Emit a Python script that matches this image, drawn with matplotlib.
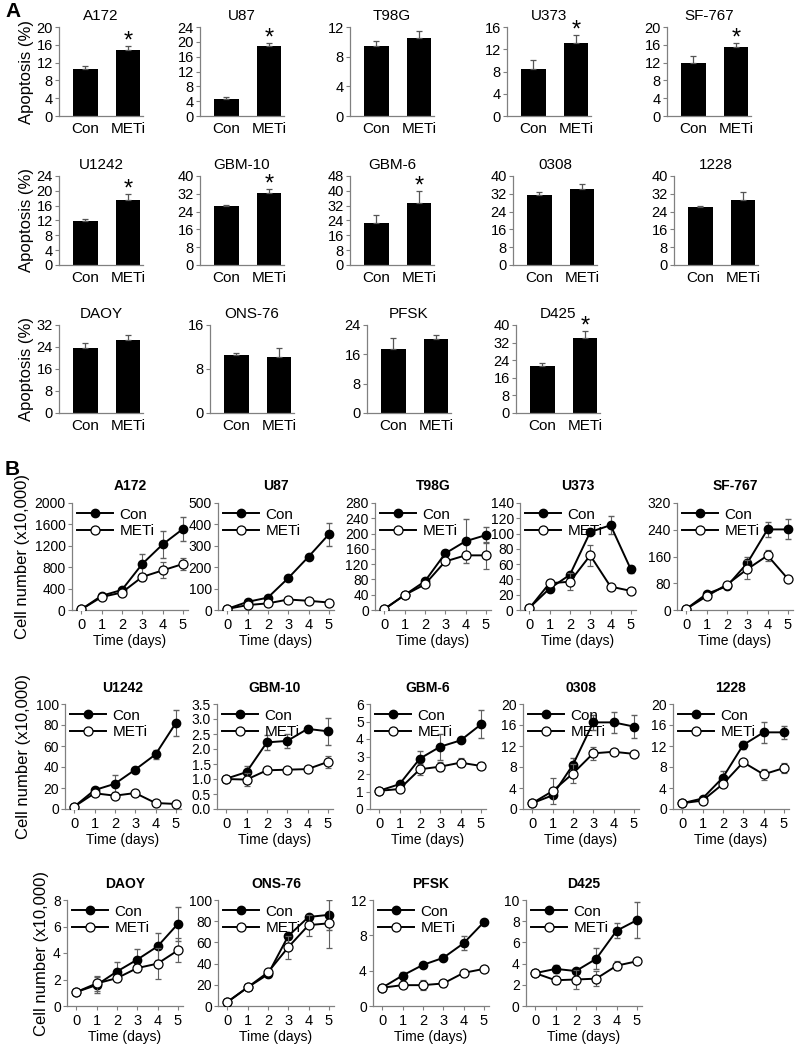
import numpy as np
import matplotlib.pyplot as plt
from matplotlib.ticker import MultipleLocator, FormatStrFormatter

plt.rcParams['font.family'] = ['Liberation Sans', 'DejaVu Sans']

# ---- panel A: apoptosis bars ----
a_names = ['A172', 'U87', 'T98G', 'U373', 'SF-767',
           'U1242', 'GBM-10', 'GBM-6', '0308', '1228',
           'DAOY', 'ONS-76', 'PFSK', 'D425']
a_groups = ['Con', 'METi']
a_con = [10.5, 4.5, 9.4, 8.4, 11.9, 11.9, 26.6, 22.6, 31.4, 26.1, 23.8, 10.5, 17.5, 21.5]
a_con_err = [0.8, 0.7, 0.7, 1.7, 1.5, 0.4, 0.5, 4.6, 1.5, 0.5, 1.5, 0.5, 2.9, 1.2]
a_meti = [14.9, 18.8, 10.5, 13.1, 15.4, 17.6, 32.3, 33.5, 34.0, 29.1, 26.6, 10.2, 20.1, 34.0]
a_meti_err = [0.8, 0.9, 0.9, 1.5, 0.9, 1.5, 2.0, 6.3, 2.2, 3.5, 1.9, 1.6, 1.2, 3.4]
a_ymax = [20, 24, 12, 16, 20, 24, 40, 48, 40, 40, 32, 16, 24, 40]
a_step = [4, 4, 4, 4, 4, 4, 8, 8, 8, 8, 8, 8, 8, 8]
a_star = [1, 1, 0, 1, 1, 1, 1, 1, 0, 0, 0, 0, 0, 1]

# ---- panel B: growth curves ----
b_names = ['A172', 'U87', 'T98G', 'U373', 'SF-767',
           'U1242', 'GBM-10', 'GBM-6', '0308', '1228',
           'DAOY', 'ONS-76', 'PFSK', 'D425']
b_days = [0, 1, 2, 3, 4, 5]
b_con = [[10, 265, 375, 860, 1225, 1515],
         [5, 38, 58, 149, 249, 354],
         [2, 39, 75, 148, 180, 196],
         [2.6, 28, 46, 102, 111, 53],
         [3, 48, 71, 140, 241, 241],
         [2.2, 18, 24, 37.5, 52, 82],
         [1.01, 1.23, 2.22, 2.27, 2.67, 2.59],
         [1.04, 1.42, 2.88, 3.56, 3.92, 4.83],
         [1.1, 2.6, 8.4, 16.5, 16.5, 15.7],
         [1.1, 2.0, 6.0, 12.2, 14.6, 14.6],
         [1.05, 1.58, 2.6, 3.5, 4.5, 6.2],
         [3.7, 17.5, 29.8, 66, 84, 86],
         [2.07, 3.45, 4.65, 5.45, 7.1, 9.5],
         [3.1, 3.5, 3.3, 4.45, 7.1, 8.1]]
b_con_err = [[0, 20, 30, 180, 250, 225],
             [0, 5, 5, 6, 8, 54],
             [0, 3, 5, 8, 57, 20],
             [0, 2, 3, 3, 12, 5],
             [0, 5, 6, 20, 23, 30],
             [0, 2, 8, 2, 4, 12],
             [0, 0.2, 0.25, 0.22, 0.1, 0.45],
             [0, 0.15, 0.45, 0.75, 0.1, 0.8],
             [0, 0.3, 1.4, 1.4, 2.0, 2.2],
             [0, 0.3, 1.3, 0.8, 2.0, 1.3],
             [0, 0.6, 0.7, 0.8, 1.0, 1.3],
             [0, 1, 2, 3, 2, 14],
             [0, 0.4, 0.2, 0.2, 0.8, 0.2],
             [0, 0.4, 0.2, 1.0, 0.7, 1.7]]
b_meti = [[10, 242, 327, 618, 740, 860],
          [5, 23, 31, 49, 43, 35],
          [2, 39, 67, 127, 143, 143],
          [2, 35, 37, 71.5, 30.6, 25],
          [3, 41, 76, 122, 163, 93],
          [2.2, 15, 12.7, 15.2, 5.7, 4.8],
          [1.0, 0.98, 1.29, 1.31, 1.33, 1.57],
          [1.04, 1.14, 2.27, 2.42, 2.65, 2.46],
          [1.1, 3.4, 6.75, 10.6, 10.9, 10.5],
          [1.1, 1.6, 4.75, 8.9, 6.6, 7.8],
          [1.05, 1.7, 2.1, 2.86, 3.2, 4.2],
          [3.5, 17.5, 31.7, 55.4, 76.3, 78],
          [2.07, 2.36, 2.36, 2.55, 3.75, 4.2],
          [3.1, 2.43, 2.5, 2.58, 3.8, 4.22]]
b_meti_err = [[0, 20, 30, 80, 150, 120],
              [0, 3, 3, 4, 4, 4],
              [0, 3, 5, 6, 10, 35],
              [0, 2, 11, 14, 2, 2],
              [0, 4, 6, 28, 15, 5],
              [0, 1, 1, 1, 1, 1],
              [0, 0.22, 0.05, 0.05, 0.05, 0.2],
              [0, 0.1, 0.3, 0.25, 0.25, 0.2],
              [0, 2.5, 1.8, 1.3, 0.3, 0.3],
              [0, 0.3, 0.6, 0.4, 1.1, 0.9],
              [0, 0.6, 0.2, 0.3, 1.15, 0.9],
              [0, 1, 2, 11, 10, 23],
              [0, 0.2, 0.6, 0.4, 0.3, 0.2],
              [0, 0.4, 0.9, 0.7, 0.4, 0.2]]
b_ymax = [2000, 500, 280, 140, 320, 100, 3.5, 6, 20, 20, 8, 100, 12, 10]
b_step = [400, 100, 40, 20, 80, 20, 0.5, 1, 4, 4, 2, 20, 4, 2]

W, H = 796, 1050
fig = plt.figure(figsize=(W / 100, H / 100), dpi=100)
grey = '#808080'


def place(left, top, width, bottom):
    return fig.add_axes([left / W, 1 - bottom / H, width / W, (bottom - top) / H])


def style(ax, size):
    for s in ['top', 'right']:
        ax.spines[s].set_visible(False)
    for s in ['left', 'bottom']:
        ax.spines[s].set_color(grey)
        ax.spines[s].set_linewidth(0.9)
    ax.tick_params(color=grey, length=3, width=0.8, labelsize=size, pad=1.5)


# layout of panel A (pixel left edges, row top/bottom)
a_lefts = [[59, 200, 350, 507, 667], [59, 200, 350, 513, 674], [59, 210, 367, 516]]
a_rows = [(27, 116), (176, 265), (325, 413)]

k = 0
for r, lefts in enumerate(a_lefts):
    for c, left in enumerate(lefts):
        top, bottom = a_rows[r]
        ax = place(left, top, 84, bottom)
        style(ax, 10.5)
        vals = [a_con[k], a_meti[k]]
        errs = [a_con_err[k], a_meti_err[k]]
        x = np.arange(2)
        ax.bar(x, vals, width=0.58, color='black',
               yerr=[[0, 0], errs], error_kw=dict(ecolor='#555555', elinewidth=0.9, capsize=2, capthick=0.9))
        ax.set_xlim(-0.62, 1.35)
        ax.set_ylim(0, a_ymax[k])
        ax.yaxis.set_major_locator(MultipleLocator(a_step[k]))
        ax.set_xticks(x)
        ax.set_xticklabels(a_groups, fontsize=11)
        ax.tick_params(axis='x', length=0, pad=4)
        ax.set_title(a_names[k], fontsize=11, pad=5)
        if a_star[k]:
            ax.annotate('*', xy=(1, a_meti[k] + a_meti_err[k]), xytext=(0, -1),
                        textcoords='offset points', ha='center', va='baseline',
                        fontsize=17, clip_on=False)
        if c == 0:
            ax.set_ylabel('Apoptosis (%)', fontsize=12, labelpad=2)
        k += 1

# layout of panel B
b_lefts = [[72, 218, 375, 520, 677], [65, 217, 370, 523, 673], [67, 218, 373, 526]]
b_rows = [(503, 610), (704, 809), (900, 1006)]

k = 0
for r, lefts in enumerate(b_lefts):
    for c, left in enumerate(lefts):
        top, bottom = b_rows[r]
        ax = place(left, top, 116, bottom)
        style(ax, 10)
        ax.errorbar(b_days, b_con[k], yerr=b_con_err[k], color='black', lw=1.4,
                    marker='o', ms=6, mfc='black', mec='black', ecolor='#606060',
                    elinewidth=0.8, capsize=2, label='Con', zorder=3)
        ax.errorbar(b_days, b_meti[k], yerr=b_meti_err[k], color='black', lw=1.4,
                    marker='o', ms=6.5, mfc='white', mec='black', mew=0.9, ecolor='#606060',
                    elinewidth=0.8, capsize=2, label='METi', zorder=4)
        ax.set_xlim(-0.45, 5.25)
        ax.set_ylim(0, b_ymax[k])
        ax.set_xticks(b_days)
        ax.yaxis.set_major_locator(MultipleLocator(b_step[k]))
        if b_step[k] < 1:
            ax.yaxis.set_major_formatter(FormatStrFormatter('%.1f'))
        ax.tick_params(axis='x', labelsize=10.5, pad=3)
        ax.set_title(b_names[k], fontsize=10, fontweight='bold', pad=9)
        ax.set_xlabel('Time (days)', fontsize=10, labelpad=1)
        if c == 0:
            ax.set_ylabel('Cell number (x10,000)', fontsize=12, labelpad=3)
        h, l = ax.get_legend_handles_labels()
        h = [hh[0] for hh in h]
        ax.legend(h, l, loc='upper left', frameon=False, fontsize=11,
                  handlelength=2.4, handletextpad=0.4, labelspacing=0.15,
                  borderaxespad=0.1, borderpad=0.2)
        k += 1

fig.text(5 / W, 1 - 2 / H, 'A', fontsize=15, fontweight='bold', va='top')
fig.text(5 / W, 1 - 460 / H, 'B', fontsize=15, fontweight='bold', va='top')

fig.savefig('out.png', dpi=100)
